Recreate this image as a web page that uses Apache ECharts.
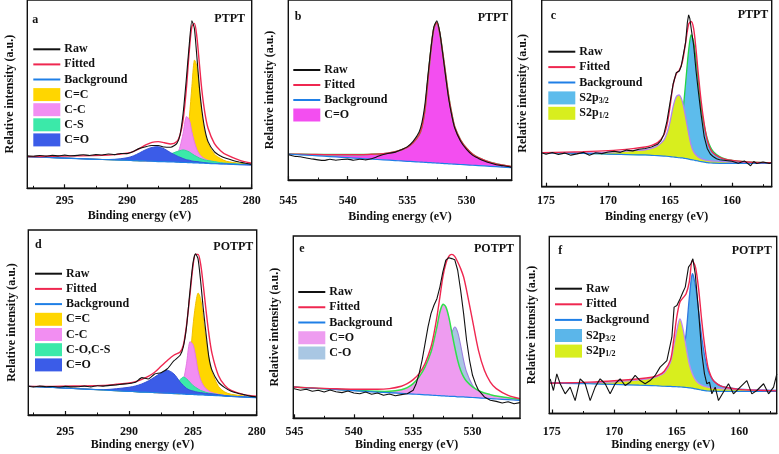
<!DOCTYPE html>
<html><head><meta charset="utf-8">
<script src="https://cdn.jsdelivr.net/npm/echarts@6/dist/echarts.min.js"></script>
<style>html,body{margin:0;padding:0;background:#fff}#c{width:779px;height:454px}</style>
</head><body><div id="c"></div>
<script>
// ---------- tick labels ----------
const ticksC1s = [295, 290, 285, 280];
const minorC1s = [297.5, 292.5, 287.5, 282.5];
const ticksO1s = [545, 540, 535, 530];
const minorO1s = [542.5, 537.5, 532.5, 527.5];
const ticksS2p = [175, 170, 165, 160];
const minorS2p = [172.5, 167.5, 162.5, 157.5];

// ---------- panel a : C1s PTPT ----------
const aE   = [298,296,294,292,291,290,289.5,289,288.5,288,287.5,287,286.5,286,285.75,285.5,285.25,285,284.8,284.6,284.4,284.2,284,283.75,283.5,283,282.5,282,281,280];
const aBg  = [16.8,16.3,15.8,15.3,15.1,14.9,14.7,14.6,14.5,14.4,14.2,14.1,14.0,13.9,13.8,13.7,13.7,13.6,13.6,13.5,13.5,13.4,13.4,13.3,13.2,13.1,13.0,12.9,12.6,12.4];
const aFit = [16.8,17.0,17.2,17.5,17.9,18.6,19.5,21.1,23.0,24.4,24.8,24.2,23.5,24.8,28.3,36.3,52.2,73.5,85.8,87.6,80.5,66.4,52.2,39.8,31.9,23.9,20.0,17.7,15.0,13.3];
const aCeqC = [16.8,16.3,15.8,15.3,15.1,14.9,14.7,14.6,14.5,14.4,14.3,14.3,15.0,15.8,16.8,19.5,25.7,38,54,68,64.6,52.2,39.8,29.2,23.9,18.2,15.8,14.3,13.3,12.6];
const aCC  = [16.8,16.3,15.8,15.3,15.1,14.9,14.7,14.6,14.5,14.4,14.3,14.7,15.6,18.2,22.1,29.2,38,36.3,30,24.8,20.7,18.2,16.8,15.6,14.9,14.0,13.5,13.1,12.7,12.4];
const aCS  = [16.8,16.3,15.8,15.3,15.1,14.9,14.7,14.6,14.7,14.9,15.6,16.8,18.2,19.5,20,20.4,20,19.3,18.4,17.5,16.8,16.1,15.6,15,14.7,14.2,13.6,13.3,12.9,12.6];
const aCO  = [16.8,16.3,15.8,15.3,15.4,16.2,17.2,18.8,20.5,21.7,22.1,20.9,18.9,17.2,16.5,15.8,15.2,14.9,14.5,14.3,14.2,14.0,13.8,13.6,13.4,13.2,13.0,12.9,12.6,12.4];
const aRawE = [298,297.5,297,296.5,296,295.5,295,294.5,294,293.5,293,292.5,292,291.5,291,290.5,290,289.5,289,288.5,288,287.5,287,286.5,286,285.75,285.5,285.25,285,284.8,284.6,284.4,284.2,284,283.75,283.5,283,282.5,282,281.5,281,280.5,280];
const aRaw  = [17.2,17.0,17.4,17.1,17.5,17.2,17.6,17.3,17.5,17.8,17.4,17.9,17.7,18.2,17.9,18.5,18.4,19.5,21.2,22.1,22.7,22.7,21.9,21.8,23.9,28.3,39.8,57.5,77,89,85,70,54,41.6,31,24.8,19.5,17.2,15.8,14.8,14.0,13.3,12.7];

// ---------- panel b : O1s PTPT ----------
const bE   = [545,544,543,542,541,540,539,538,537,536,535.5,535,534.5,534,533.75,533.5,533.25,533,532.75,532.5,532.25,532,531.75,531.5,531.25,531,530.5,530,529.5,529,528,527,526.2];
const bBg  = [14.4,14.0,13.6,13.2,12.8,12.4,12.0,11.6,11.2,10.8,10.6,10.4,10.2,10.0,9.9,9.8,9.7,9.6,9.5,9.4,9.3,9.2,9.1,9.0,8.9,8.8,8.6,8.4,8.2,8.0,7.6,7.2,6.9];
const bCO  = [14.4,14.3,14.2,14.1,14.1,14.1,14.1,14.3,14.6,15.7,16.7,18.1,20.7,25,29.6,38.9,55.6,72.2,84.3,87.4,81.5,70.4,58.3,46.3,37,29.6,22.2,17.6,14.4,12.4,9.8,8.3,7.4];
const bFit = [14.4,14.3,14.2,14.1,14.1,14.1,14.1,14.3,14.6,15.7,16.7,18.1,20.7,25,29.6,38.9,55.6,72.2,84.3,87.4,81.5,70.4,58.3,46.3,37,29.6,22.2,17.6,14.4,12.4,9.8,8.3,7.4];
const bRawE = [545,544.5,544,543.5,543,542.5,542,541.5,541,540.5,540,539.5,539,538.5,538,537.5,537,536,535.5,535,534.5,534,533.75,533.5,533.25,533,532.75,532.5,532.25,532,531.75,531.5,531.25,531,530.5,530,529.5,529,528.5,528,527.5,527,526.5,526.2];
const bRaw  = [14.0,13.2,12.9,12.2,11.7,11.2,10.9,11.5,11.0,11.4,11.6,11.0,11.5,11.2,11.8,13.0,14.2,15.5,16.8,18.4,21.5,26.5,32,42,58,73,85,88.5,82,70,57,45,36,29,21.5,17,13.8,12,10.5,9.4,8.5,8.0,7.5,7.0];

// ---------- panel c : S2p PTPT ----------
const cE   = [175.3,172,170,168,167,166.5,166,165.5,165.25,165,164.75,164.5,164.25,164,163.75,163.5,163.3,163.1,162.9,162.75,162.5,162.25,162,161.75,161.5,161,160.5,160,159,158,156.8];
const cBg  = [18.1,17.9,17.5,17.1,17.0,16.8,16.6,16.4,16.3,16.1,15.9,15.7,15.5,15.4,15.1,14.8,14.5,14.3,14.0,13.8,13.4,13.2,12.9,12.7,12.6,12.5,12.5,12.5,12.5,12.5,12.5];
const cP32 = [18.1,17.9,17.6,17.2,17.2,17.3,17.6,18.3,19.0,20.2,22,25,29.5,38,55,73,81.3,77.7,67.9,58.9,42.9,33,25.9,21.4,18.75,16.1,14.8,14.1,13.4,13,12.9];
const cP12 = [18.3,18.1,18.4,19.3,19.8,20.5,22,25,28.6,34.8,42.9,48.2,49.1,45.5,37.5,28.6,22.3,18.8,17,16.1,15,14.5,14.1,13.9,13.75,13.6,13.4,13.2,13,12.9,12.7];
const cFit = [18.2,18.75,19.3,20.4,21.25,22.1,23.6,27.7,33,42.9,54.5,60.4,62.5,67,76.8,87,88.5,84.8,73.2,62.5,46.4,33.9,25,20.2,17.9,15.7,14.6,14.1,13.4,13,12.9];
const cRawE = [175.3,175,174.5,174,173.5,173,172.5,172,171.5,171,170.5,170,169.5,169,168.5,168,167.5,167,166.5,166,165.75,165.5,165.25,165,164.75,164.5,164.4,164.25,164.1,164,163.75,163.6,163.5,163.4,163.3,163.1,162.9,162.75,162.5,162.25,162,161.75,161.5,161.25,161,160.5,160,159.5,159,158.5,158.25,158,157.5,157,156.8];
const cRaw  = [18.0,17.4,18.3,17.2,18.0,16.9,17.6,18.4,16.8,18.2,17.7,18.6,19.0,18.4,19.6,19.2,20.1,20.5,21.3,22.8,24.5,28,35,45,55,61,61.5,62,64.5,65.5,77,88,92,90,85,76,62,53,39,27,20.5,17.5,16.0,15.0,14.4,14.0,13.6,12.6,13.8,11.2,13.5,12.4,13.2,12.5,12.8];

// ---------- panel d : C1s POTPT ----------
const dE   = [297.9,296,294,292,291,290,289.5,289,288.5,288,287.5,287,286.5,286,285.75,285.5,285.25,285,284.8,284.6,284.4,284.2,284,283.75,283.5,283,282.5,282,281,280];
const dBg  = [15.5,14.9,14.2,13.5,13.1,12.8,12.6,12.4,12.3,12.1,11.9,11.8,11.6,11.4,11.3,11.2,11.2,11.1,11.0,10.9,10.9,10.8,10.7,10.6,10.6,10.4,10.2,10.0,9.7,9.4];
const dFit = [15.5,15.5,15.7,16.0,16.6,17.3,18.0,19.3,20.9,23.1,26.3,29.5,32.3,34.1,37.7,48.5,63.8,80,86.8,86.8,81.8,71,58.4,44,33.2,21.4,16,13.3,11,10.1];
const dCeqC = [15.5,14.9,14.2,13.5,13.1,12.8,12.6,12.4,12.3,12.1,11.9,11.8,11.6,11.5,13.3,16.9,27.7,47.6,59.3,65.9,62.9,53,42.2,30.5,23.2,15.5,12.4,11.2,10.3,9.5];
const dCC  = [15.5,14.9,14.2,13.5,13.1,12.8,12.6,12.4,12.3,12.1,11.9,11.8,12.1,14.8,18.7,27.7,39.5,38.2,32.3,24.1,19.1,16.2,14.4,13,12.1,11.2,10.6,10.1,9.8,9.4];
const dCOCS = [15.5,14.9,14.2,13.5,13.1,12.8,12.6,12.4,12.3,12.1,12.4,13.7,16,19.1,20.5,19.6,17.8,16,15,14.1,13.3,12.8,12.3,11.9,11.5,11,10.5,10.2,9.8,9.4];
const dCO  = [15.5,14.9,14.2,13.7,14.2,15.0,15.7,16.8,18.4,20.5,22.7,24.1,22.3,17.8,16.0,14.4,13.5,13.0,12.6,12.3,12.1,11.9,11.7,11.5,11.4,11.0,10.5,10.2,9.8,9.4];
const dRawE = [297.9,297.5,297,296.5,296,295.5,295,294.5,294,293.5,293,292.5,292,291.5,291,290.5,290,289.5,289,288.5,288,287.5,287,286.5,286,285.75,285.5,285.25,285,284.8,284.6,284.4,284.2,284,283.75,283.5,283,282.5,282,281.5,281,280.5,280];
const dRaw  = [15.5,15.2,15.6,15.3,15.4,15.1,15.5,15.2,15.3,15.6,15.2,15.8,15.6,16.0,16.3,16.7,17.0,17.7,20.2,19.5,22.2,22.9,25,29.2,32.3,36.8,47.6,65.6,81.8,87.2,84.5,72.8,58.4,45.8,31.4,24.1,17.8,14.8,12.8,11.8,11.0,10.2,9.7];

// ---------- panel e : O1s POTPT ----------
const eE   = [545.1,544,542,540,538,537,536,535.5,535,534.5,534,533.5,533.25,533,532.75,532.5,532.25,532,531.75,531.5,531.25,531,530.75,530.5,530,529.5,529,528.5,528,527,526];
const eBg  = [17.2,16.7,16.0,15.2,14.4,14.1,13.7,13.5,13.3,13.1,12.9,12.7,12.6,12.5,12.4,12.3,12.2,12.1,12.0,12.0,11.8,11.8,11.7,11.6,11.4,11.2,11.0,10.8,10.6,10.2,9.8];
const eFit = [17.2,16.8,16.3,15.9,15.9,16.3,17.6,19,21.2,24.5,30,39.1,46.4,55.6,66.5,77.5,84.8,88.8,89.9,88.8,85.7,82.1,77.5,70.2,53.7,37.3,26.3,19.9,16.3,12.6,10.8];
const eCO  = [17.2,16.7,16.1,15.4,14.8,14.8,15.7,16.8,19,22.7,28.2,36.4,42.8,50.1,58.3,62.5,61.1,55.6,47.3,39.1,31.8,26.3,22.7,20.3,17.2,15.2,13.9,13,12.2,11.3,10.4];
const eCdO = [17.2,16.7,16.0,15.2,14.4,14.1,13.7,13.5,13.5,14.1,15.4,17.6,19,21.8,24.5,29.1,34.6,41,46.8,50.1,47.3,40,31.8,25.4,18.1,14.4,12.6,11.7,11.2,10.6,9.9];
const eRawE = [545.1,544.5,544,543.5,543,542.5,542,541.5,541,540.5,540,539.5,539,538.5,538,537.5,537,536.5,536,535.5,535,534.75,534.5,534.25,534,533.75,533.5,533.25,533,532.75,532.5,532.25,532,531.9,531.75,531.6,531.5,531.25,531,530.75,530.5,530.25,530,529.75,529.5,529,528.5,528,527.5,527,526.5,526];
const eRaw  = [16.3,15.4,15.9,14.8,15.4,14.4,15.5,14.6,14.1,15.0,13.9,13.5,14.4,13.2,13.9,12.6,13.3,12.4,13.0,13.5,15.4,19,24.5,31.8,41,50.1,57.4,62,65.6,72,80.3,86.7,88.1,88.8,87.6,88.1,87,81.2,70.2,57.4,42.8,31.8,23.6,19,15.4,11.7,9.9,9.3,8.4,9.1,8.0,8.6];

// ---------- panel f : S2p POTPT ----------
const fE   = [175.2,174,172,170,168,167,166.5,166,165.5,165.25,165,164.75,164.5,164.25,164,163.75,163.5,163.25,163,162.75,162.5,162.25,162,161.5,161,160,159,158,157];
const fBg  = [17.1,17.0,16.8,16.4,16.0,15.8,15.6,15.4,15.3,15.2,15.1,15.0,14.9,14.7,14.5,14.3,13.9,13.6,13.2,12.9,12.7,12.6,12.6,12.5,12.5,12.5,12.5,12.5,12.5];
const fP32 = [17.4,17.3,17.1,16.8,16.5,16.6,16.9,17.4,18.5,19.5,21.2,26,33,45,65,78.9,71.8,58.2,43.1,31.8,24.3,20.5,18.1,15.6,14.7,13.7,13.4,13.2,13.0];
const fP12 = [17.2,17.1,17.3,17.9,19.0,20.0,21.1,23.0,29.0,37.5,46.9,53.5,47.8,37.5,28.1,22.4,19.0,17.1,16.0,15.3,14.9,14.5,14.3,14.1,13.9,13.6,13.4,13.2,13.0];
const fFit = [17.1,17.3,17.7,18.5,19.6,20.5,21.5,23.9,30.3,41.2,54.4,62.9,65.3,67.6,74.2,86.4,82.7,70.4,52.5,37.5,26.2,20.9,18.1,15.6,14.7,13.6,13.2,13.0,12.8];
const fRawE = [175.13,174.87,174.6,174.33,173.93,173.53,173.13,172.73,172.33,171.93,171.53,171.13,170.73,170.33,169.93,169.53,169.13,168.73,168.33,167.93,167.53,167.13,166.73,166.33,165.79,165.39,165.21,164.99,164.73,164.51,164.32,164.06,163.87,163.71,163.52,163.26,162.99,162.78,162.59,162.38,162.19,161.92,161.66,161.26,160.86,160.46,159.92,159.39,158.99,158.59,158.05,157.65,157.25,156.99];
const fRaw  = [19.6,13,22.4,16.8,11.1,14.9,7.3,19.6,16.8,7.3,14.9,19.6,16.8,11.1,16.8,19.6,15.8,17.7,21.5,18.6,16.8,18.6,21.5,26.2,29.9,43.1,60.1,61,64.8,68.5,71.4,82.7,84.6,87.4,78.9,58.2,33.7,22.4,16.8,17.7,11.1,14.9,7.3,12.1,16.8,11.1,14.9,18.6,11.1,13,16.8,11.1,14.9,22.4];

// ---------- styling / layout ----------
const FONT = '"Liberation Serif","Times New Roman",serif';
const INK = '#111';
const RAWC = '#111111', FITC = '#ef2750', BGC = '#1f7fe6';

const panels = [
  {grid:{left:27.3, top:0, width:224.4, height:188.3}, xmin:280, xmax:298, ticks:ticksC1s, minor:minorC1s,
   lm:6.5, ng:21.5, yng:11.3, legend:{left:33.3, y0:49.3, dy:15.1},
   letter:['a',32.3,20], sample:['PTPT',245,19],
   E:aE, bg:aBg, fit:aFit, rawE:aRawE, raw:aRaw, rawSmooth:0.2,
   comps:[{name:'C=C',data:aCeqC,fill:'#ffd600',line:'#f2c200'},
          {name:'C-C',data:aCC,fill:'#f28ef2',line:'#e47ae4'},
          {name:'C-S',data:aCS,fill:'#3be9a9',line:'#2fd897'},
          {name:'C=O',data:aCO,fill:'#3b5ce8',line:'#3350d8'}], order:[0,1,2,3]},
  {grid:{left:288.3, top:0, width:223.4, height:180}, xmin:526.2, xmax:545, ticks:ticksO1s, minor:minorO1s,
   lm:15, ng:31, yng:12.3, legend:{left:293.3, y0:70, dy:15},
   letter:['b',294.7,17], sample:['PTPT',508.3,18],
   E:bE, bg:bBg, fit:bFit, rawE:bRawE, raw:bRaw, rawSmooth:0.2, fitFirst:true,
   comps:[{name:'C=O',data:bCO,fill:'#f34ef0',line:'#3fe35a',lw:1.6}], order:[0]},
  {grid:{left:541.7, top:0, width:230, height:186.7}, xmin:156.8, xmax:175.35, ticks:ticksS2p, minor:minorS2p,
   lm:8.3, ng:24.3, yng:12.7, legend:{left:548.3, y0:51.7, dy:15.4},
   letter:['c',550.7,16], sample:['PTPT',768.3,15],
   E:cE, bg:cBg, fit:cFit, rawE:cRawE, raw:cRaw, rawSmooth:0,
   comps:[{name:'S2p3/2',data:cP32,fill:'#5dbcec',line:'#22d447',lw:1.3},
          {name:'S2p1/2',data:cP12,fill:'#d8ee1e',line:'#b384ee',lw:1.3}], order:[0,1]},
  {grid:{left:28.3, top:230, width:228.4, height:185}, xmin:280, xmax:297.9, ticks:ticksC1s, minor:minorC1s,
   lm:10.7, ng:22.3, yng:10.6, legend:{left:35, y0:273.7, dy:15.2},
   letter:['d',35,245.3], sample:['POTPT',253.3,247],
   E:dE, bg:dBg, fit:dFit, rawE:dRawE, raw:dRaw, rawSmooth:0.2,
   comps:[{name:'C=C',data:dCeqC,fill:'#ffd600',line:'#f2c200'},
          {name:'C-C',data:dCC,fill:'#f28ef2',line:'#e47ae4'},
          {name:'C-O,C-S',data:dCOCS,fill:'#3be9a9',line:'#2fd897'},
          {name:'C=O',data:dCO,fill:'#3b5ce8',line:'#3350d8'}], order:[0,1,2,3]},
  {grid:{left:293.3, top:236, width:226.7, height:182.3}, xmin:526, xmax:545.1, ticks:ticksO1s, minor:minorO1s,
   lm:7.4, ng:19, yng:12.3, legend:{left:298.3, y0:292, dy:15.25},
   letter:['e',299.3,248.7], sample:['POTPT',514,249],
   E:eE, bg:eBg, fit:eFit, rawE:eRawE, raw:eRaw, rawSmooth:0,
   comps:[{name:'C=O',data:eCO,fill:'#ee9cf0',line:'#30e04a',lw:1.5},
          {name:'C-O',data:eCdO,fill:'#a9c7e3',line:'#9d7ee0',lw:1.1}], order:[1,0]},
  {grid:{left:549.3, top:236.5, width:227.4, height:177}, xmin:157, xmax:175.2, ticks:ticksS2p, minor:minorS2p,
   lm:12.4, ng:24, yng:11.6, legend:{left:555, y0:288.7, dy:15.6},
   letter:['f',558.3,251], sample:['POTPT',771.7,251],
   E:fE, bg:fBg, fit:fFit, rawE:fRawE, raw:fRaw, rawSmooth:0,
   comps:[{name:'S2p3/2',data:fP32,fill:'#5bb6ea',line:'#2f78e0',lw:1.3},
          {name:'S2p1/2',data:fP12,fill:'#d8ee1e',line:'#c08af0',lw:1.3}], order:[0,1]}
];

const txt = (size) => ({fontFamily:FONT, fontWeight:'bold', fontSize:size, color:INK});
const pairs = (E, v) => E.map((e, k) => [e, v[k]]);

// a fitted component: filled band between the background and the component curve
function componentSeries(xi, yi, E, comp, bg, c) {
  return {type:'custom', name:c.name, xAxisIndex:xi, yAxisIndex:yi, clip:true, silent:true,
    data:[[E[0], bg[0]]],
    renderItem:(params, api) => {
      const top = E.map((e, n) => api.coord([e, Math.max(comp[n], bg[n])]));
      const bot = E.map((e, n) => api.coord([e, bg[n]])).reverse();
      return {type:'group', children:[
        {type:'polygon', shape:{points:top.concat(bot), smooth:0.3}, style:{fill:c.fill, stroke:'none'}},
        {type:'polyline', shape:{points:top, smooth:0.3}, style:{fill:'none', stroke:c.line, lineWidth:c.lw || 1}}
      ]};
    }};
}

const option = {animation:false, backgroundColor:'#fff', grid:[], xAxis:[], yAxis:[], series:[], graphic:[]};

panels.forEach((p, i) => {
  option.grid.push(Object.assign({show:true, z:10, borderColor:'#111', borderWidth:1.4, backgroundColor:'transparent', containLabel:false}, p.grid));
  option.xAxis.push({gridIndex:i, type:'value', position:'bottom', inverse:true, min:p.xmin, max:p.xmax, z:10,
    splitLine:{show:false},
    axisLine:{show:true, onZero:false, lineStyle:{color:'#111', width:1.4}},
    axisTick:{show:true, inside:true, length:4, customValues:p.ticks, lineStyle:{color:'#111', width:1.2}},
    axisLabel:Object.assign({customValues:p.ticks, margin:p.lm}, txt(12)),
    name:'Binding energy (eV)', nameLocation:'middle', nameGap:p.ng, nameTextStyle:txt(12)});
  option.xAxis.push({gridIndex:i, type:'value', position:'bottom', inverse:true, min:p.xmin, max:p.xmax, z:10,
    splitLine:{show:false}, axisLine:{show:false, onZero:false}, axisLabel:{show:false},
    axisTick:{show:true, inside:true, length:2.5, customValues:p.minor, lineStyle:{color:'#111', width:1}}});
  option.yAxis.push({gridIndex:i, type:'value', min:0, max:100,
    splitLine:{show:false}, axisLine:{show:false}, axisTick:{show:false}, axisLabel:{show:false},
    name:'Relative intensity (a.u.)', nameLocation:'middle', nameRotate:90, nameGap:p.yng, nameTextStyle:txt(12)});

  const xi = 2 * i, yi = i;
  const fitSeries = {type:'line', name:'Fitted', xAxisIndex:xi, yAxisIndex:yi, data:pairs(p.E, p.fit),
    symbol:'none', smooth:0.3, color:FITC, lineStyle:{color:FITC, width:1.4}};
  if (p.fitFirst) option.series.push(fitSeries);
  p.order.forEach(k => {
    const c = p.comps[k];
    option.series.push(componentSeries(xi, yi, p.E, c.data, p.bg, c));
  });
  option.series.push({type:'line', name:'Background', xAxisIndex:xi, yAxisIndex:yi, data:pairs(p.E, p.bg),
    symbol:'none', smooth:0.3, color:BGC, lineStyle:{color:BGC, width:1.2}});
  if (!p.fitFirst) option.series.push(fitSeries);
  option.series.push({type:'line', name:'Raw', xAxisIndex:xi, yAxisIndex:yi, data:pairs(p.rawE, p.raw),
    symbol:'none', smooth:p.rawSmooth, color:RAWC, lineStyle:{color:RAWC, width:1.1}});

  // legend (drawn as graphic so every panel keeps its own entries)
  const L = p.legend.left;
  const items = [{name:'Raw', kind:'line', color:RAWC}, {name:'Fitted', kind:'line', color:FITC},
                 {name:'Background', kind:'line', color:BGC}]
    .concat(p.comps.map(c => ({name:c.name, kind:'rect', color:c.fill})));
  items.forEach((it, r) => {
    const yc = p.legend.y0 + r * p.legend.dy;
    option.graphic.push(it.kind === 'line'
      ? {type:'rect', z:100, silent:true, shape:{x:L, y:yc - 1, width:27, height:2}, style:{fill:it.color}}
      : {type:'rect', z:100, silent:true, shape:{x:L, y:yc - 6.5, width:27, height:13}, style:{fill:it.color}});
    const m = it.name.match(/^S2p(\d\/\d)$/);
    const style = m
      ? {text:'{n|S2p}{s|' + m[1] + '}', fill:INK, align:'left', verticalAlign:'middle',
         rich:{n:{fontFamily:FONT, fontWeight:'bold', fontSize:12, fill:INK},
               s:{fontFamily:FONT, fontWeight:'bold', fontSize:8, fill:INK, padding:[6,0,0,0]}}}
      : {text:it.name, font:'bold 12px ' + FONT, fill:INK, align:'left', verticalAlign:'middle'};
    option.graphic.push({type:'text', z:100, silent:true, x:L + 31, y:yc, style:style});
  });

  option.graphic.push({type:'text', x:p.letter[1], y:p.letter[2], z:100, silent:true,
    style:{text:p.letter[0], font:'bold 12px ' + FONT, fill:INK, align:'left', verticalAlign:'middle'}});
  option.graphic.push({type:'text', x:p.sample[1], y:p.sample[2], z:100, silent:true,
    style:{text:p.sample[0], font:'bold 12px ' + FONT, fill:INK, align:'right', verticalAlign:'middle'}});
});

const chart = echarts.init(document.getElementById('c'), null, {renderer:'canvas'});
chart.setOption(option);
</script>
</body></html>
